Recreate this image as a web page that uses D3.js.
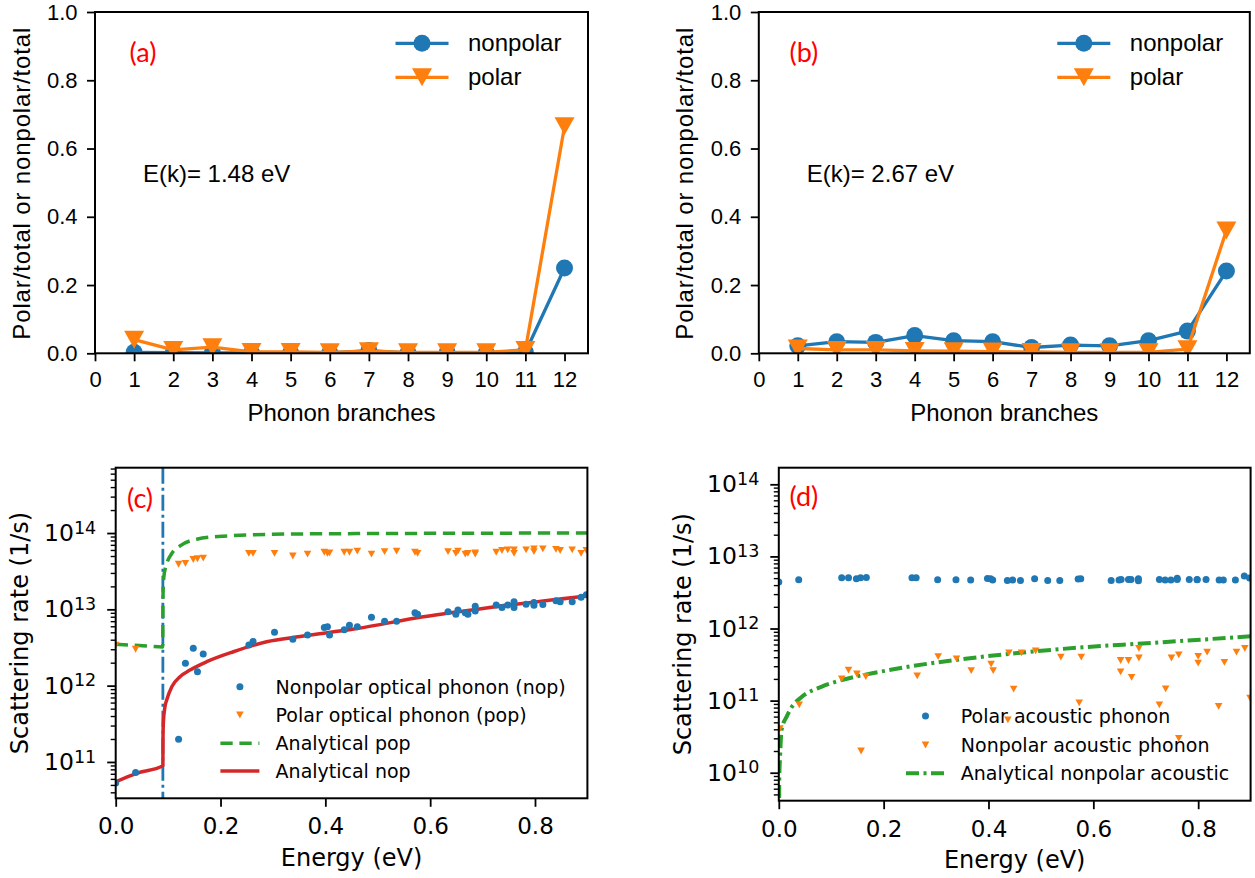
<!DOCTYPE html>
<html>
<head>
<meta charset="utf-8">
<script src="https://cdn.jsdelivr.net/npm/d3@7"></script>
<style>
  body { margin: 0; background: #fff; }
  svg { display: block; }
</style>
</head>
<body>
<svg id="fig" width="1255" height="878"></svg>
<script>
// ---------- data: phonon-branch ratios ----------
const branches = [1, 2, 3, 4, 5, 6, 7, 8, 9, 10, 11, 12];
const branchTicks = [0, 1, 2, 3, 4, 5, 6, 7, 8, 9, 10, 11, 12];
const ratioTicks = [0, 0.2, 0.4, 0.6, 0.8, 1.0];

const nonpolarA = [0.003, 0.002, 0.001, 0.001, 0.001, 0.001, 0.008, 0.001, 0.002, 0.001, 0.003, 0.25];
const polarA    = [0.040, 0.010, 0.018, 0.004, 0.004, 0.003, 0.006, 0.003, 0.003, 0.003, 0.010, 0.665];
const nonpolarB = [0.022, 0.034, 0.032, 0.052, 0.037, 0.034, 0.017, 0.024, 0.022, 0.037, 0.065, 0.241];
const polarB    = [0.014, 0.010, 0.010, 0.007, 0.006, 0.005, 0.004, 0.003, 0.003, 0.003, 0.012, 0.36];

// ---------- data: scattering rates vs energy ----------
const energyTicks = [0, 0.2, 0.4, 0.6, 0.8];
const phononEnergy = 0.09;

// k-point energies (eV) shared by the optical and polar acoustic rates
const kEnergy = [0.000, 0.038, 0.120, 0.133, 0.148, 0.156, 0.167, 0.254, 0.262, 0.303,
                 0.338, 0.366, 0.398, 0.404, 0.408, 0.436, 0.446, 0.461, 0.488, 0.513,
                 0.536, 0.571, 0.576, 0.634, 0.649, 0.653, 0.667, 0.672, 0.686, 0.686,
                 0.726, 0.737, 0.748, 0.760, 0.760, 0.783, 0.798, 0.798, 0.815, 0.840,
                 0.848, 0.871, 0.888, 0.898];
// nonpolar optical phonon rate (1/s)
const nopRate = [5.3e10, 7.3e10, 1.98e11, 1.96e12, 3.08e12, 1.52e12, 2.6e12, 3.4e12, 3.8e12, 5.0e12,
                 4.05e12, 4.6e12, 5.8e12, 5.9e12, 4.6e12, 5.4e12, 6.2e12, 5.9e12, 7.9e12, 7.0e12,
                 7.0e12, 9.0e12, 8.6e12, 9.3e12, 8.6e12, 9.8e12, 9.0e12, 8.6e12, 9.5e12, 1.1e13,
                 1.14e13, 1.06e13, 1.14e13, 1.26e13, 1.06e13, 1.17e13, 1.23e13, 1.13e13, 1.16e13, 1.3e13,
                 1.26e13, 1.26e13, 1.44e13, 1.55e13];
// polar optical phonon rate (1/s)
const popRate = [3.4e12, 3.0e12, 3.9e13, 4.0e13, 4.5e13, 4.6e13, 4.7e13, 5.4e13, 5.4e13, 5.4e13,
                 5.0e13, 5.3e13, 5.6e13, 5.4e13, 5.5e13, 5.6e13, 5.6e13, 5.8e13, 5.3e13, 5.7e13,
                 5.8e13, 5.6e13, 5.4e13, 5.7e13, 5.4e13, 5.8e13, 5.3e13, 5.4e13, 5.3e13, 5.5e13,
                 5.6e13, 5.9e13, 6.0e13, 5.4e13, 6.0e13, 6.0e13, 6.2e13, 5.7e13, 6.2e13, 6.1e13,
                 5.9e13, 6.0e13, 5.4e13, 5.9e13];
// polar acoustic phonon rate (1/s)
const pacRate = [4.4e12, 4.75e12, 5.07e12, 5.07e12, 4.9e12, 5.07e12, 5.1e12, 5.07e12, 5.07e12, 4.75e12,
                 4.75e12, 4.7e12, 4.95e12, 4.9e12, 4.7e12, 4.65e12, 4.7e12, 4.65e12, 4.9e12, 4.65e12,
                 4.65e12, 4.85e12, 4.9e12, 4.65e12, 4.7e12, 4.8e12, 4.8e12, 4.8e12, 4.9e12, 4.6e12,
                 4.8e12, 4.7e12, 4.7e12, 4.97e12, 4.8e12, 4.8e12, 4.8e12, 4.75e12, 4.8e12, 4.7e12,
                 4.7e12, 4.7e12, 5.35e12, 5.0e12];

// nonpolar acoustic phonon rate (1/s)
const napEnergy = [0.002, 0.039, 0.120, 0.133, 0.149, 0.157, 0.166, 0.264, 0.304, 0.339,
                   0.367, 0.405, 0.409, 0.437, 0.439, 0.448, 0.463, 0.490, 0.538, 0.573,
                   0.577, 0.652, 0.652, 0.667, 0.673, 0.687, 0.687, 0.726, 0.738, 0.749,
                   0.763, 0.763, 0.800, 0.800, 0.817, 0.839, 0.850, 0.873, 0.889, 0.899];
const napRate = [4.1e10, 8.7e10, 2.0e11, 2.65e11, 2.34e11, 2.0e10, 2.15e11, 2.2e11, 4.07e11, 3.8e11,
                 2.6e11, 3.2e11, 2.6e11, 5.4e10, 4.6e11, 1.44e11, 4.6e11, 4.9e11, 4.0e11, 9.3e10,
                 4.0e11, 3.6e11, 2.5e11, 3.6e11, 2.1e11, 5.3e11, 3.9e11, 8.7e10, 1.45e11, 3.9e11,
                 4.3e11, 3.0e10, 4.1e11, 3.3e11, 4.7e11, 8.3e10, 3.4e11, 4.7e11, 5.3e11, 1.08e11];

// analytical curves
const popFitEnergy = [0, 0.045, 0.0897, 0.0900, 0.0902, 0.0907, 0.092, 0.0945, 0.0973, 0.107,
                      0.1227, 0.1546, 0.2053, 0.3326, 0.5, 0.7, 0.9];
const popFitRate   = [3.5e12, 3.35e12, 3.22e12, 6.0e12, 1.3e13, 2.0e13, 2.7e13, 3.4e13, 4.0e13, 5.4e13,
                      6.8e13, 8.3e13, 9.1e13, 9.7e13, 9.85e13, 9.95e13, 1.0e14];
const nopFitEnergy = [0, 0.04, 0.0897, 0.0900, 0.0903, 0.091, 0.094, 0.0973, 0.107, 0.1227,
                      0.1418, 0.1737, 0.2245, 0.288, 0.352, 0.46, 0.587, 0.714, 0.9];
const nopFitRate   = [5.5e10, 7.1e10, 8.9e10, 9.0e10, 2.2e11, 3.3e11, 5.3e11, 6.5e11, 9.7e11, 1.31e12,
                      1.6e12, 2.06e12, 2.78e12, 3.76e12, 4.4e12, 5.6e12, 8.0e12, 1.06e13, 1.5e13];
const acFitEnergy  = [0.0003, 0.001, 0.0023, 0.0055, 0.015, 0.025, 0.044, 0.082, 0.12, 0.178,
                      0.241, 0.337, 0.455, 0.582, 0.71, 0.9];
const acFitRate    = [2.0e9, 8.9e9, 1.6e10, 4.0e10, 6.0e10, 8.2e10, 1.13e11, 1.56e11, 1.93e11, 2.39e11,
                      2.9e11, 3.66e11, 4.57e11, 5.5e11, 6.3e11, 7.8e11];

// ---------- styling ----------
const COL = { blue: '#1f77b4', orange: '#ff7f0e', green: '#2ca02c', red: '#d62728', tag: '#ff0000' };
const TOP_FONT = '"Liberation Sans", Arial, sans-serif';
const BOT_FONT = '"DejaVu Sans", sans-serif';
const TAG_FONT = 'Lato, "Open Sans", sans-serif';

const fig = d3.select('#fig');
const defs = fig.append('defs');

const triangle = (hw, hh) => `M${-hw},${-hh}L${hw},${-hh}L0,${hh}Z`;

function addClip(id, b) {
  defs.append('clipPath').attr('id', id).append('rect')
    .attr('x', b.left).attr('y', b.top)
    .attr('width', b.right - b.left).attr('height', b.bottom - b.top);
}

function frame(g, b) {
  g.append('rect')
    .attr('x', b.left).attr('y', b.top)
    .attr('width', b.right - b.left).attr('height', b.bottom - b.top)
    .attr('fill', 'none').attr('stroke', '#000').attr('stroke-width', 2);
}

function styleAxis(sel, font, size) {
  sel.select('.domain').remove();
  sel.selectAll('.tick line').attr('stroke', '#000').attr('stroke-width', 1.8);
  sel.selectAll('.tick text').attr('fill', '#000')
    .style('font-family', font).style('font-size', size + 'px');
}

// ---------- panels (a), (b) ----------
function ratioPanel(id, box, nonpolar, polar, tag, energyLabel) {
  const g = fig.append('g');
  const x = d3.scaleLinear().domain([0, 12.6]).range([box.left, box.right]);
  const y = d3.scaleLinear().domain([0, 1]).range([box.bottom, box.top]);
  addClip(id, box);
  const data = g.append('g').attr('clip-path', `url(#${id})`);

  const line = d3.line().x((d, i) => x(branches[i])).y(d => y(d));
  data.append('path').attr('d', line(nonpolar))
    .attr('fill', 'none').attr('stroke', COL.blue).attr('stroke-width', 3.3).attr('stroke-linejoin', 'round');
  data.selectAll(null).data(nonpolar).join('circle')
    .attr('cx', (d, i) => x(branches[i])).attr('cy', d => y(d)).attr('r', 8.5).attr('fill', COL.blue);
  data.append('path').attr('d', line(polar))
    .attr('fill', 'none').attr('stroke', COL.orange).attr('stroke-width', 3.3).attr('stroke-linejoin', 'round');
  data.selectAll(null).data(polar).join('path')
    .attr('transform', (d, i) => `translate(${x(branches[i])},${y(d)})`)
    .attr('d', triangle(10, 9)).attr('fill', COL.orange);

  const xa = g.append('g').attr('transform', `translate(0,${box.bottom})`)
    .call(d3.axisBottom(x).tickValues(branchTicks).tickFormat(d3.format('d')).tickSize(8).tickPadding(10));
  styleAxis(xa, TOP_FONT, 22);
  const ya = g.append('g').attr('transform', `translate(${box.left},0)`)
    .call(d3.axisLeft(y).tickValues(ratioTicks).tickFormat(d3.format('.1f')).tickSize(8).tickPadding(9.5));
  styleAxis(ya, TOP_FONT, 22);
  frame(g, box);

  const cx = (box.left + box.right) / 2;
  g.append('text').attr('x', cx).attr('y', 420.5).attr('text-anchor', 'middle')
    .style('font-family', TOP_FONT).style('font-size', '24px').text('Phonon branches');
  const cy = (box.top + box.bottom) / 2 + 1;
  g.append('text')
    .attr('transform', `translate(${box.left - 65.5},${cy}) rotate(-90)`)
    .attr('text-anchor', 'middle').attr('textLength', 312).attr('lengthAdjust', 'spacing')
    .style('font-family', TOP_FONT).style('font-size', '24px')
    .text('Polar/total or nonpolar/total');

  g.append('text').attr('x', tag.x).attr('y', 62).attr('fill', COL.tag)
    .style('font-family', TAG_FONT).style('font-size', '27px').text(tag.text);
  g.append('text').attr('x', box.left + 47.9).attr('y', 181.7)
    .style('font-family', TOP_FONT).style('font-size', '24px').text(energyLabel);

  // legend
  const lx = box.right - 166;
  const rows = [
    { y: 43.3, color: COL.blue, kind: 'circle', label: 'nonpolar' },
    { y: 77.3, color: COL.orange, kind: 'tri', label: 'polar' }
  ];
  rows.forEach(r => {
    g.append('line').attr('x1', lx - 26.5).attr('x2', lx + 26.5).attr('y1', r.y).attr('y2', r.y)
      .attr('stroke', r.color).attr('stroke-width', 3.3);
    if (r.kind === 'circle') {
      g.append('circle').attr('cx', lx).attr('cy', r.y).attr('r', 8.5).attr('fill', r.color);
    } else {
      g.append('path').attr('transform', `translate(${lx},${r.y})`).attr('d', triangle(10, 9)).attr('fill', r.color);
    }
    g.append('text').attr('x', box.right - 120).attr('y', r.y + 8)
      .style('font-family', TOP_FONT).style('font-size', '24px').text(r.label);
  });
}

ratioPanel('clipA', { left: 95, right: 588, top: 12, bottom: 353.3 }, nonpolarA, polarA,
  { x: 129.5, text: '(a)' }, 'E(k)= 1.48 eV');
ratioPanel('clipB', { left: 758.8, right: 1249.8, top: 12, bottom: 353.3 }, nonpolarB, polarB,
  { x: 789.5, text: '(b)' }, 'E(k)= 2.67 eV');

// ---------- panels (c), (d) ----------
function logAxis(g, y, box) {
  const [lo, hi] = y.domain();
  const majors = [], minors = [];
  for (let e = Math.floor(Math.log10(lo)); e <= Math.ceil(Math.log10(hi)); e++) {
    for (let m = 1; m < 10; m++) {
      const v = m * Math.pow(10, e);
      if (v < lo || v > hi) continue;
      (m === 1 ? majors : minors).push(v);
    }
  }
  const minor = g.append('g').attr('transform', `translate(${box.left},0)`)
    .call(d3.axisLeft(y).tickValues(minors).tickFormat(() => '').tickSize(5));
  styleAxis(minor, BOT_FONT, 23);
  minor.selectAll('.tick line').attr('stroke-width', 1.4);
  const major = g.append('g').attr('transform', `translate(${box.left},0)`)
    .call(d3.axisLeft(y).tickValues(majors).tickFormat(() => '').tickSize(8.5).tickPadding(11));
  styleAxis(major, BOT_FONT, 23.5);
  major.selectAll('.tick text').each(function (d) {
    const t = d3.select(this);
    t.text('10');
    t.append('tspan').attr('dy', '-0.42em').style('font-size', '17.5px').text(Math.round(Math.log10(d)));
  });
}

function ratePanel(id, box, yDomain, tag, draw, legend) {
  const g = fig.append('g');
  const x = d3.scaleLinear().domain([0, 0.9]).range([box.left, box.right]);
  const y = d3.scaleLog().domain(yDomain).range([box.bottom, box.top]);
  addClip(id, box);
  const data = g.append('g').attr('clip-path', `url(#${id})`);
  draw(data, x, y);

  const xa = g.append('g').attr('transform', `translate(0,${box.bottom})`)
    .call(d3.axisBottom(x).tickValues(energyTicks).tickFormat(d3.format('.1f')).tickSize(8.5).tickPadding(11));
  styleAxis(xa, BOT_FONT, 23);
  logAxis(g, y, box);
  frame(g, box);

  const cx = (box.left + box.right) / 2;
  g.append('text').attr('x', cx).attr('y', box.bottom + 67.5).attr('text-anchor', 'middle')
    .style('font-family', BOT_FONT).style('font-size', '24px').text('Energy (eV)');
  g.append('text')
    .attr('transform', `translate(${box.left - 88},${(box.top + box.bottom) / 2}) rotate(-90)`)
    .attr('text-anchor', 'middle')
    .style('font-family', BOT_FONT).style('font-size', '24px').text('Scattering rate (1/s)');
  g.append('text').attr('x', tag.x).attr('y', tag.y).attr('fill', COL.tag)
    .style('font-family', TAG_FONT).style('font-size', '27px').text(tag.text);

  legend.rows.forEach(r => {
    const mx = legend.x;
    if (r.kind === 'dot') {
      g.append('circle').attr('cx', mx).attr('cy', r.y).attr('r', 3.5).attr('fill', r.color);
    } else if (r.kind === 'tri') {
      g.append('path').attr('transform', `translate(${mx},${r.y})`).attr('d', triangle(3.8, 3.4)).attr('fill', r.color);
    } else {
      g.append('line').attr('x1', mx - 19.5).attr('x2', mx + 19.5).attr('y1', r.y).attr('y2', r.y)
        .attr('stroke', r.color).attr('stroke-width', r.width).attr('stroke-dasharray', r.dash || null);
    }
    g.append('text').attr('x', legend.textX).attr('y', r.y + 7)
      .style('font-family', BOT_FONT).style('font-size', '19px').text(r.label);
  });
}

const DASH = '12.3,6.7';
const DASH_DOT = '13,4.5,3,4.5';
const VLINE_DASH = '16,4,3,4';

ratePanel('clipC', { left: 115.7, right: 587.4, top: 467.7, bottom: 798.3 }, [3.34e10, 7.18e14],
  { x: 127, y: 508, text: '(c)' },
  (data, x, y) => {
    data.append('line').attr('x1', x(phononEnergy)).attr('x2', x(phononEnergy))
      .attr('y1', y.range()[1]).attr('y2', y.range()[0])
      .attr('stroke', COL.blue).attr('stroke-width', 2.8).attr('stroke-dasharray', VLINE_DASH);
    const fit = (es, rs) => d3.line().curve(d3.curveMonotoneX).x((d, i) => x(es[i])).y(d => y(d))(rs);
    data.append('path').attr('d', fit(popFitEnergy, popFitRate)).attr('fill', 'none')
      .attr('stroke', COL.green).attr('stroke-width', 3.5).attr('stroke-dasharray', DASH);
    data.append('path').attr('d', fit(nopFitEnergy, nopFitRate)).attr('fill', 'none')
      .attr('stroke', COL.red).attr('stroke-width', 3.5);
    data.selectAll(null).data(nopRate).join('circle')
      .attr('cx', (d, i) => x(kEnergy[i])).attr('cy', d => y(d)).attr('r', 3.5).attr('fill', COL.blue);
    data.selectAll(null).data(popRate).join('path')
      .attr('transform', (d, i) => `translate(${x(kEnergy[i])},${y(d)})`)
      .attr('d', triangle(3.8, 3.4)).attr('fill', COL.orange);
  },
  {
    x: 239.9, textX: 275.6,
    rows: [
      { y: 686.7, kind: 'dot', color: COL.blue, label: 'Nonpolar optical phonon (nop)' },
      { y: 715, kind: 'tri', color: COL.orange, label: 'Polar optical phonon (pop)' },
      { y: 743.3, kind: 'line', color: COL.green, width: 3.5, dash: DASH, label: 'Analytical pop' },
      { y: 771, kind: 'line', color: COL.red, width: 3.5, label: 'Analytical nop' }
    ]
  });

ratePanel('clipD', { left: 778.8, right: 1250.6, top: 467.7, bottom: 800.7 }, [4.09e9, 1.70e14],
  { x: 789.5, y: 506, text: '(d)' },
  (data, x, y) => {
    const fit = d3.line().curve(d3.curveMonotoneX).x((d, i) => x(acFitEnergy[i])).y(d => y(d));
    data.append('path').attr('d', fit(acFitRate)).attr('fill', 'none')
      .attr('stroke', COL.green).attr('stroke-width', 4).attr('stroke-dasharray', DASH_DOT);
    data.selectAll(null).data(pacRate).join('circle')
      .attr('cx', (d, i) => x(kEnergy[i])).attr('cy', d => y(d)).attr('r', 3.5).attr('fill', COL.blue);
    data.selectAll(null).data(napRate).join('path')
      .attr('transform', (d, i) => `translate(${x(napEnergy[i])},${y(d)})`)
      .attr('d', triangle(3.8, 3.4)).attr('fill', COL.orange);
  },
  {
    x: 925.5, textX: 960.8,
    rows: [
      { y: 716, kind: 'dot', color: COL.blue, label: 'Polar acoustic phonon' },
      { y: 745, kind: 'tri', color: COL.orange, label: 'Nonpolar acoustic phonon' },
      { y: 773.3, kind: 'line', color: COL.green, width: 4, dash: DASH_DOT, label: 'Analytical nonpolar acoustic' }
    ]
  });
</script>
</body>
</html>
